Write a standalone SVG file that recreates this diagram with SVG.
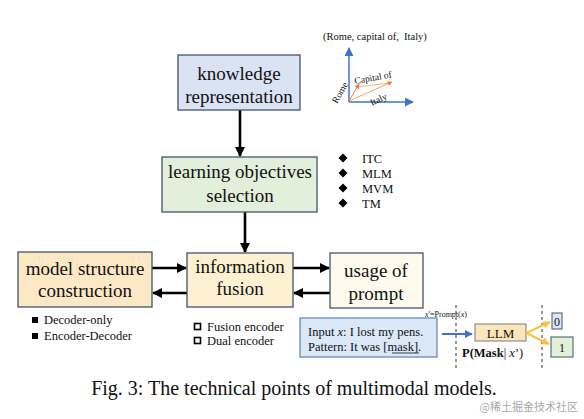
<svg xmlns="http://www.w3.org/2000/svg" width="584" height="419" viewBox="0 0 584 419">
<style>
text{font-family:"Liberation Serif","Times New Roman",serif;fill:#111}
.box{stroke:#44546a;stroke-width:1.3}
.big{font-size:19px;text-anchor:middle}
.sm{font-size:12.5px}
.conn{stroke:#000;stroke-width:2.6;fill:none}
</style>
<defs>
<marker id="ah" viewBox="0 0 10 10" refX="9" refY="5" markerWidth="4" markerHeight="4" orient="auto" markerUnits="strokeWidth"><path d="M0,0L10,5L0,10z" fill="#000"/></marker>
<marker id="ab" viewBox="0 0 10 10" refX="9" refY="5" markerWidth="4" markerHeight="4" orient="auto" markerUnits="strokeWidth"><path d="M0,0L10,5L0,10z" fill="#4472c4"/></marker>
<marker id="ay" viewBox="0 0 10 10" refX="9" refY="5" markerWidth="3.5" markerHeight="3.5" orient="auto" markerUnits="strokeWidth"><path d="M0,0L10,5L0,10z" fill="#f6c347"/></marker>
<marker id="ao" viewBox="0 0 10 10" refX="9" refY="5" markerWidth="5" markerHeight="5" orient="auto" markerUnits="strokeWidth"><path d="M0,0L10,5L0,10z" fill="#ed7d31"/></marker>
<marker id="axb" viewBox="0 0 10 10" refX="9" refY="5" markerWidth="6" markerHeight="6" orient="auto" markerUnits="strokeWidth"><path d="M0,0L10,5L0,10z" fill="#4472c4"/></marker>
</defs>

<g id="connectors">
<line class="conn" x1="240" y1="110" x2="240" y2="156" marker-end="url(#ah)"/>
<line class="conn" x1="245" y1="212" x2="245" y2="252" marker-end="url(#ah)"/>
<line class="conn" x1="152" y1="268" x2="186" y2="268" marker-end="url(#ah)"/>
<line class="conn" x1="187" y1="293" x2="153" y2="293" marker-end="url(#ah)"/>
<line class="conn" x1="293" y1="268" x2="329" y2="268" marker-end="url(#ah)"/>
<line class="conn" x1="330" y1="293" x2="294" y2="293" marker-end="url(#ah)"/>
</g>

<g id="knowledge">
<rect class="box" x="178" y="55" width="122" height="55" fill="#dae3f3"/>
<text class="big" x="239" y="80">knowledge</text>
<text class="big" x="239" y="103">representation</text>
</g>

<g id="learning">
<rect class="box" x="162" y="157" width="155" height="55" fill="#e2efda"/>
<text class="big" x="240" y="178">learning objectives</text>
<text class="big" x="240" y="202">selection</text>
</g>

<g id="model">
<rect class="box" x="18" y="252" width="134" height="55" fill="#fde8c6"/>
<text class="big" x="85" y="275">model structure</text>
<text class="big" x="85" y="297">construction</text>
</g>

<g id="fusion">
<rect class="box" x="187" y="253" width="106" height="54" fill="#fdf1d2"/>
<text class="big" x="240" y="273">information</text>
<text class="big" x="240" y="295">fusion</text>
</g>

<g id="prompt">
<rect class="box" x="330" y="253" width="93" height="55" fill="#fefbee"/>
<text class="big" x="376" y="277">usage of</text>
<text class="big" x="376" y="300">prompt</text>
</g>

<g id="kg-example">
<text x="323" y="40" font-size="10.5">(Rome, capital of,&#160; Italy)</text>
<line x1="349" y1="102" x2="349" y2="48" stroke="#4472c4" stroke-width="1.5" marker-end="url(#axb)"/>
<line x1="349" y1="102" x2="413" y2="102" stroke="#4472c4" stroke-width="1.5" marker-end="url(#axb)"/>
<line x1="349" y1="101" x2="359" y2="84" stroke="#ed7d31" stroke-width="1" marker-end="url(#ao)"/>
<line x1="349" y1="101" x2="392" y2="82" stroke="#ed7d31" stroke-width="1" stroke-opacity="0.7" marker-end="url(#ao)"/>
<line x1="357" y1="87" x2="390" y2="83" stroke="#ed7d31" stroke-width="1" stroke-opacity="0.6"/>
<text x="355" y="84" font-size="9.5" transform="rotate(-10 355 84)">Capital of</text>
<text x="337" y="104" font-size="9.5" transform="rotate(-60 337 104)">Rome</text>
<text x="372" y="106" font-size="9.5" transform="rotate(-25 372 106)">Italy</text>
</g>

<g id="objectives-list">
<path d="M343,153.5l4.5,4.5l-4.5,4.5l-4.5,-4.5z M343,168.5l4.5,4.5l-4.5,4.5l-4.5,-4.5z M343,183.5l4.5,4.5l-4.5,4.5l-4.5,-4.5z M343,198.5l4.5,4.5l-4.5,4.5l-4.5,-4.5z" fill="#000"/>
<text class="sm" x="362" y="162.5">ITC</text>
<text class="sm" x="362" y="177.5">MLM</text>
<text class="sm" x="362" y="192.5">MVM</text>
<text class="sm" x="362" y="207.5">TM</text>
</g>

<g id="structure-list">
<rect x="32" y="317" width="6" height="6" fill="#000"/>
<rect x="32" y="333" width="6" height="6" fill="#000"/>
<text class="sm" x="44" y="324">Decoder-only</text>
<text class="sm" x="44" y="340">Encoder-Decoder</text>
</g>

<g id="fusion-list">
<rect x="194.5" y="323.5" width="6" height="6" fill="#fff" stroke="#000" stroke-width="1.6"/>
<rect x="194.5" y="337.5" width="6" height="6" fill="#fff" stroke="#000" stroke-width="1.6"/>
<text class="sm" x="207" y="331">Fusion encoder</text>
<text class="sm" x="207" y="345">Dual encoder</text>
</g>

<g id="prompt-example">
<rect x="300" y="318" width="137" height="39" fill="#dae8f8" stroke="#6a89b8" stroke-width="1.3"/>
<text class="sm" x="308" y="336">Input <tspan font-style="italic">x</tspan>: I lost my pens.</text>
<text class="sm" x="308" y="351">Pattern: It was [mask].</text>
<line x1="392" y1="353" x2="419" y2="353" stroke="#111" stroke-width="0.8"/>
<line x1="442" y1="334" x2="472" y2="334" stroke="#4472c4" stroke-width="2" marker-end="url(#ab)"/>
<line x1="456" y1="305" x2="456" y2="370" stroke="#333" stroke-width="1" stroke-dasharray="3,3"/>
<line x1="542" y1="305" x2="542" y2="370" stroke="#333" stroke-width="1" stroke-dasharray="3,3"/>
<text x="425" y="317" font-size="8"><tspan font-style="italic">x</tspan>'=Prompt(<tspan font-style="italic">x</tspan>)</text>
<rect x="475" y="324" width="51" height="17" fill="#fde6bc" stroke="#7a7a7a" stroke-width="1"/>
<text x="500.5" y="337.5" font-size="13" text-anchor="middle">LLM</text>
<text x="462" y="357" font-size="12.5" font-weight="bold">P(Mask<tspan font-weight="normal">| <tspan font-style="italic">x</tspan>’)</tspan></text>
<line x1="526" y1="333" x2="550" y2="322" stroke="#f6c347" stroke-width="2.2" marker-end="url(#ay)"/>
<line x1="526" y1="333" x2="549" y2="344" stroke="#f6c347" stroke-width="2.2" marker-end="url(#ay)"/>
<rect x="552" y="313" width="10" height="16" fill="#dbe7f5" stroke="#44546a" stroke-width="1"/>
<text x="557" y="325.5" font-size="12" text-anchor="middle">0</text>
<rect x="551" y="337" width="22" height="20" fill="#e2f0d9" stroke="#44546a" stroke-width="1"/>
<text x="562" y="351.5" font-size="12" text-anchor="middle">1</text>
</g>

<text x="294" y="395" font-size="20" text-anchor="middle">Fig. 3: The technical points of multimodal models.</text>
<text x="578" y="411" font-size="11" text-anchor="end" style="fill:#a8a8a8;font-family:'Noto Sans CJK SC','Noto Sans',sans-serif">@稀土掘金技术社区</text>
</svg>
